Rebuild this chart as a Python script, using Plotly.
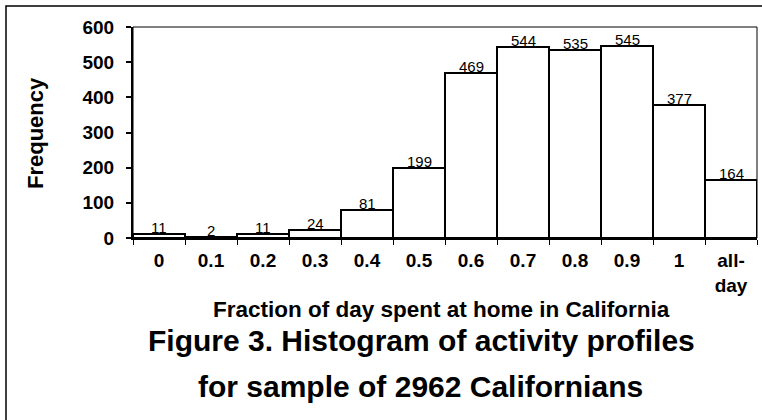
import plotly.graph_objects as go

categories = ["0", "0.1", "0.2", "0.3", "0.4", "0.5", "0.6", "0.7", "0.8", "0.9", "1", "all-<br>day"]
frequency = [11, 2, 11, 24, 81, 199, 469, 544, 535, 545, 377, 164]
y_ticks = [0, 100, 200, 300, 400, 500, 600]

x_title = "Fraction of day spent at home in California"
fig_title_1 = "Figure 3. Histogram of activity profiles"
fig_title_2 = "for sample of 2962 Californians"
y_title = "Frequency"

FONT = "Liberation Sans, Arial, sans-serif"
W, H = 762, 420
L, R, T, B = 133, 5, 27, 182
PW, PH = W - L - R, H - T - B

def px_to_paper_x(px):
    return (px - L) / PW

def px_to_paper_y(py):
    return (H - B - py) / PH

xs = list(range(len(categories)))

fig = go.Figure()
fig.add_trace(go.Bar(
    x=xs, y=frequency, width=1,
    marker=dict(color="white", line=dict(color="black", width=2)),
    hoverinfo="x+y", showlegend=False,
))

annotations = []
for xi, v in zip(xs, frequency):
    annotations.append(dict(
        x=xi, y=v, xref="x", yref="y", text=str(v), showarrow=False,
        yanchor="bottom", yshift=-4,
        font=dict(family=FONT, size=15, color="black"),
    ))

annotations += [
    dict(text="<b>%s</b>" % x_title, xref="paper", yref="paper",
         x=px_to_paper_x(441), y=px_to_paper_y(309), xanchor="center", yanchor="middle",
         showarrow=False, font=dict(family=FONT, size=22.5, color="black")),
    dict(text="<b>%s</b>" % fig_title_1, xref="paper", yref="paper",
         x=px_to_paper_x(421), y=px_to_paper_y(340), xanchor="center", yanchor="middle",
         showarrow=False, font=dict(family=FONT, size=30, color="black")),
    dict(text="<b>%s</b>" % fig_title_2, xref="paper", yref="paper",
         x=px_to_paper_x(420), y=px_to_paper_y(386), xanchor="center", yanchor="middle",
         showarrow=False, font=dict(family=FONT, size=30, color="black")),
    dict(text="<b>%s</b>" % y_title, xref="paper", yref="paper",
         x=px_to_paper_x(35), y=px_to_paper_y(133), xanchor="center", yanchor="middle",
         textangle=-90, showarrow=False, font=dict(family=FONT, size=22, color="black")),
]

shapes = [
    # plot area box (thin top/right)
    dict(type="rect", xref="paper", yref="paper", x0=0, x1=1, y0=0, y1=1,
         line=dict(color="black", width=1), layer="above"),
    # outer figure frame (only top and left visible)
    dict(type="rect", xref="paper", yref="paper",
         x0=px_to_paper_x(6), x1=px_to_paper_x(775),
         y0=px_to_paper_y(440), y1=px_to_paper_y(6),
         line=dict(color="black", width=1.5)),
]

fig.update_layout(
    width=W, height=H,
    margin=dict(l=L, r=R, t=T, b=B, pad=0),
    paper_bgcolor="white", plot_bgcolor="white",
    bargap=0,
    font=dict(family=FONT, color="black"),
    annotations=annotations,
    shapes=shapes,
    xaxis=dict(
        range=[-0.5, len(categories) - 0.5],
        tickmode="array", tickvals=xs,
        ticktext=["<b>%s</b>" % c for c in categories],
        ticks="", tickfont=dict(family=FONT, size=19, color="black"),
        showline=True, linecolor="black", linewidth=2,
        showgrid=False, zeroline=False,
        minor=dict(ticks="outside", tick0=-0.5, dtick=1, ticklen=5,
                   tickwidth=1, tickcolor="black", showgrid=False),
        ticklabelstandoff=4,
        fixedrange=True,
    ),
    yaxis=dict(
        range=[0, 600],
        tickmode="array", tickvals=y_ticks,
        ticktext=["<b>%d</b>" % v for v in y_ticks],
        ticks="outside", ticklen=5, tickwidth=1.5, tickcolor="black",
        tickfont=dict(family=FONT, size=19, color="black"),
        showline=True, linecolor="black", linewidth=2,
        showgrid=False, zeroline=False,
        ticklabelstandoff=8,
        fixedrange=True,
    ),
)

fig.write_html("out.html", config={"displayModeBar": False},
               post_script="document.body.style.margin='0';document.body.style.padding='0';")
